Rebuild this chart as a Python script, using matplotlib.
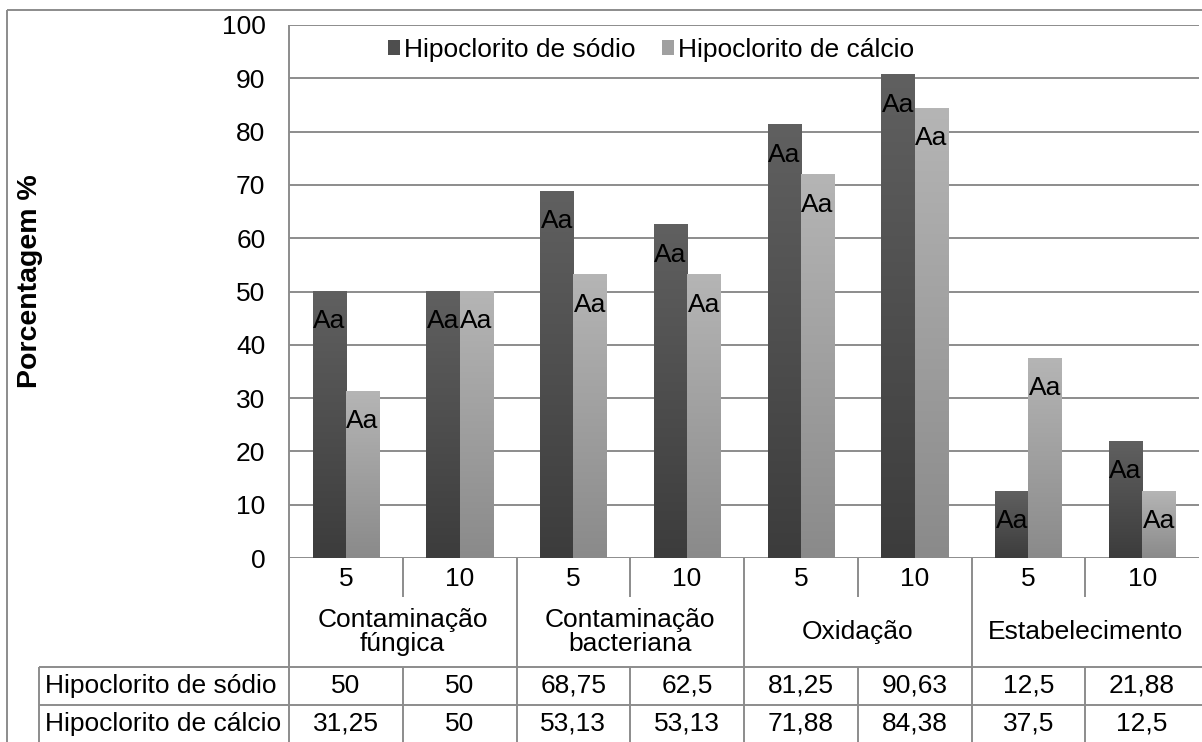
import numpy as np
import matplotlib
matplotlib.use("Agg")
import matplotlib.pyplot as plt
from matplotlib.colors import LinearSegmentedColormap
from matplotlib.patches import Patch
from matplotlib.transforms import blended_transform_factory

plt.rcParams['font.family'] = ['Liberation Sans', 'DejaVu Sans']

# ---- data ----
categories = ['Contaminação\nfúngica', 'Contaminação\nbacteriana', 'Oxidação', 'Estabelecimento']
concentrations = ['5', '10']
series_names = ['Hipoclorito de sódio', 'Hipoclorito de cálcio']
sodio = [50, 50, 68.75, 62.5, 81.25, 90.63, 12.5, 21.88]
calcio = [31.25, 50, 53.13, 53.13, 71.88, 84.38, 37.5, 12.5]
letras_sodio = ['Aa'] * 8
letras_calcio = ['Aa'] * 8
yticks = list(range(0, 101, 10))
ylabel = 'Porcentagem %'

# ---- styling ----
W, H = 1202, 742
FS = 19
GRID = '#8c8c8c'
dark_top, dark_bot = '#606060', '#3c3c3c'
light_top, light_bot = '#b5b5b5', '#8a8a8a'
bar_w = 0.293

fig = plt.figure(figsize=(W / 100, H / 100), dpi=100)
fig.patch.set_facecolor('white')

# pixel-space layer for frame, table and free text
lay = fig.add_axes([0, 0, 1, 1], zorder=0)
lay.set_xlim(0, W)
lay.set_ylim(H, 0)
lay.axis('off')

ax = fig.add_axes([289 / W, (H - 558) / H, (1199 - 289) / W, 533 / H], zorder=1)
ax.set_facecolor('none')

n = len(sodio)
x = np.arange(n)


def gradient_bars(xs, heights, top, bot):
    cmap = LinearSegmentedColormap.from_list('g', [bot, top])
    grad = np.linspace(0, 1, 256).reshape(-1, 1)
    bars = ax.bar(xs, heights, width=bar_w, color=top, edgecolor='none', zorder=2)
    for b in bars:
        x0, w, h = b.get_x(), b.get_width(), b.get_height()
        ax.imshow(grad, extent=[x0, x0 + w, 0, h], origin='lower', aspect='auto',
                  cmap=cmap, zorder=2.5, interpolation='bilinear')
    return bars


bars_s = gradient_bars(x - bar_w / 2, sodio, dark_top, dark_bot)
bars_c = gradient_bars(x + bar_w / 2, calcio, light_top, light_bot)

for bars, labs in ((bars_s, letras_sodio), (bars_c, letras_calcio)):
    for b, lab in zip(bars, labs):
        ax.annotate(lab, xy=(b.get_x() + b.get_width() / 2, b.get_height()),
                    xytext=(0, -26.5), textcoords='offset points',
                    ha='center', va='baseline', fontsize=FS, color='black', zorder=4)

ax.set_xlim(-0.5, n - 0.5)
ax.set_ylim(0, 100)
ax.set_yticks(yticks)
ax.set_yticklabels([str(t) for t in yticks], fontsize=FS)
ax.set_xticks([])
ax.tick_params(axis='y', length=0, pad=17)
ax.yaxis.grid(True, color=GRID, linewidth=1.4, zorder=0)
ax.set_axisbelow(True)
for s in ax.spines.values():
    s.set_visible(False)

handles = [Patch(facecolor='#4e4e4e'), Patch(facecolor='#a0a0a0')]
ax.legend(handles, series_names, loc='center', bbox_to_anchor=(0.398, 0.953),
          ncol=2, frameon=False, fontsize=FS, handlelength=0.47, handleheight=0.47,
          handletextpad=0.15, columnspacing=1.0, borderaxespad=0)

# ---- frame, category axis and data table ----
tr = blended_transform_factory(ax.transData, lay.transData)
lc = dict(color=GRID, linewidth=1.4, solid_capstyle='butt')

# outer chart border
lay.plot([7, W], [9.5, 9.5], **lc)
lay.plot([7, 7], [9.5, H], **lc)

# plot left edge continues down through the table
lay.plot([-0.5, -0.5], [25, H], transform=tr, **lc)

# dividers between concentrations (short) and categories (full)
for k in range(n - 1):
    xd = k + 0.5
    if k % 2 == 0:
        lay.plot([xd, xd], [558, 597], transform=tr, **lc)
        lay.plot([xd, xd], [667, H], transform=tr, **lc)
    else:
        lay.plot([xd, xd], [558, H], transform=tr, **lc)

# table rows
lay.plot([39, W], [667, 667], **lc)
lay.plot([39, W], [705, 705], **lc)
lay.plot([39, 39], [667, H], **lc)

for i in range(n):
    lay.text(i, 579, concentrations[i % 2], transform=tr, ha='center', va='center', fontsize=FS)

for j, cat in enumerate(categories):
    lay.text(2 * j + 0.5, 632, cat, transform=tr, ha='center', va='center',
             fontsize=FS, linespacing=1.0)


def fmt(v):
    return f'{v:g}'.replace('.', ',')


for row_y, name, vals in ((686, series_names[0], sodio), (724, series_names[1], calcio)):
    lay.text(45, row_y, name, ha='left', va='center', fontsize=FS)
    for i, v in enumerate(vals):
        lay.text(i, row_y, fmt(v), transform=tr, ha='center', va='center', fontsize=FS)

lay.text(30, 281, ylabel, rotation=90, ha='center', va='center',
         fontsize=20.5, fontweight='bold')

fig.savefig('out.png', dpi=100, facecolor='white')
